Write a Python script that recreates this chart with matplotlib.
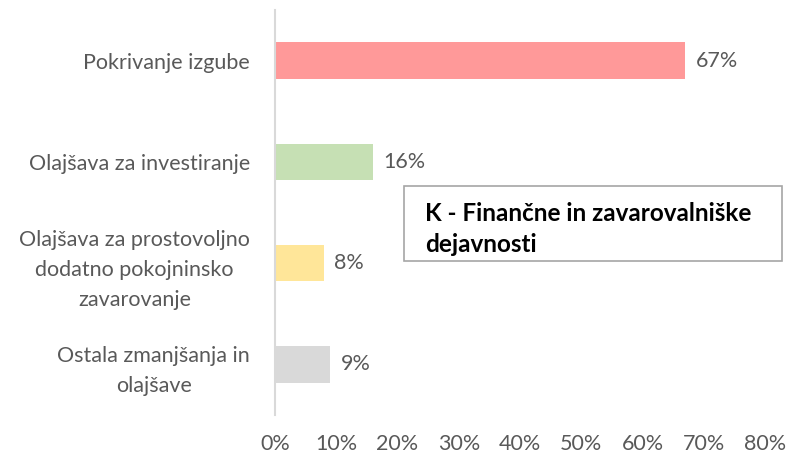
import numpy as np
import matplotlib.pyplot as plt
from matplotlib.patches import Rectangle

# data
categories = ["Pokrivanje izgube",
              "Olajšava za investiranje",
              "Olajšava za prostovoljno\ndodatno pokojninsko\nzavarovanje",
              "Ostala zmanjšanja in\nolajšave"]
values = [67, 16, 8, 9]
colors = ['#FF9999', '#C6E0B4', '#FFE699', '#D9D9D9']
xticks = [0, 10, 20, 30, 40, 50, 60, 70, 80]
box_title = "K - Finančne in zavarovalniške\ndejavnosti"

plt.rcParams['font.family'] = ['Lato', 'DejaVu Sans']
text_grey = '#595959'
fs = 15.5

fig = plt.figure(figsize=(7.9, 4.57), dpi=100)
ax = fig.add_axes([275/790, 1 - 415/457, 490/790, 405/457])

y = np.arange(len(categories))
ax.barh(y, values, height=0.36, color=colors)
ax.set_ylim(len(categories) - 0.5, -0.5)
ax.set_xlim(0, 80)

for yi, v in zip(y, values):
    ax.text(v + 1.7, yi, f"{v}%", va='center', ha='left',
            fontsize=fs, color=text_grey)

ax.set_yticks(y)
ax.set_yticklabels(categories, fontsize=fs, color=text_grey,
                   multialignment='center', linespacing=1.62)
ax.set_xticks(xticks)
ax.set_xticklabels([f"{t}%" for t in xticks], fontsize=fs, color=text_grey)
ax.tick_params(axis='both', length=0)
ax.tick_params(axis='y', pad=18)
ax.tick_params(axis='x', pad=14)

for s in ['top', 'right', 'bottom']:
    ax.spines[s].set_visible(False)
ax.spines['left'].set_color('#D9D9D9')
ax.spines['left'].set_linewidth(1.5)

# text box
fig.patches.append(Rectangle((404/790, 1 - 261/457), 378/790, 75/457,
                             transform=fig.transFigure, facecolor='white',
                             edgecolor='#A6A6A6', linewidth=1.2, zorder=5))
fig.text(425/790, 1 - 229/457, box_title, fontsize=17.5, fontweight='bold',
         color='black', va='center', ha='left', linespacing=1.42, zorder=6)

plt.savefig("out.png", dpi=100)
